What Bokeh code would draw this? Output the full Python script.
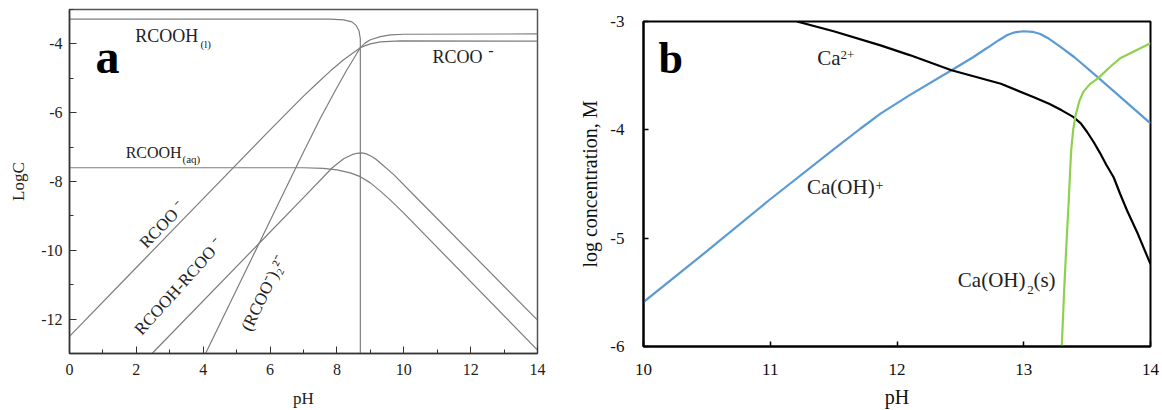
from bokeh.plotting import figure
from bokeh.layouts import row
from bokeh.models import Label, FixedTicker, Range1d
from bokeh.embed import file_html
from bokeh.resources import INLINE

# ---------------- Panel a data (pH, LogC) ----------------
ph_rcooh_l = [0, 7.8, 8.2, 8.45, 8.58, 8.66, 8.70, 8.70]
log_rcooh_l = [-3.28, -3.28, -3.30, -3.36, -3.47, -3.62, -3.85, -13.0]

ph_rcoo = [0, 2, 4, 6, 7.0, 7.4, 7.8, 8.2, 8.5, 8.7, 8.85, 9.0, 9.3, 9.9, 14]
log_rcoo = [-12.5, -10.5, -8.5, -6.5, -5.52, -5.15, -4.79, -4.46, -4.25, -4.11,
            -4.05, -4.00, -3.94, -3.91, -3.92]

ph_dimer = [4.07, 5, 6, 7, 7.5, 7.96, 8.3, 8.55, 8.7, 8.85, 9.0, 9.3, 9.6, 10, 14]
log_dimer = [-13.0, -11.14, -9.14, -7.14, -6.17, -5.34, -4.75, -4.35, -4.11,
             -3.97, -3.88, -3.79, -3.74, -3.72, -3.71]

ph_rcooh_aq = [0, 7.0, 7.6, 8.0, 8.4, 8.7, 9.0, 9.3, 9.6, 10, 14]
log_rcooh_aq = [-7.6, -7.6, -7.62, -7.66, -7.75, -7.86, -8.04, -8.28, -8.54, -8.92, -12.9]

ph_acid_soap = [2.47, 5.61, 7.0, 7.86, 8.2, 8.45, 8.6, 8.73, 8.86, 9.0, 9.15, 9.3, 9.7, 10.44, 14]
log_acid_soap = [-13.0, -9.86, -8.47, -7.6, -7.34, -7.22, -7.18, -7.17, -7.19, -7.25, -7.34,
                 -7.46, -7.8, -8.53, -12.03]

a_xticks = [0, 2, 4, 6, 8, 10, 12, 14]
a_xminor = [1, 3, 5, 7, 9, 11, 13]
a_yticks = [-12, -10, -8, -6, -4]
a_yminor = [-13, -11, -9, -7, -5, -3]

# ---------------- Panel b data (pH, log concentration) ----------------
ph_ca = [11.21, 11.5, 11.87, 12.1, 12.43, 12.82, 13.08, 13.2, 13.3, 13.39, 13.45, 13.5,
         13.55, 13.6, 13.65, 13.71, 13.76, 13.815, 13.9, 14.0]
log_ca = [-3.0, -3.09, -3.22, -3.31, -3.45, -3.575, -3.70, -3.76, -3.82, -3.88, -3.94, -4.02,
          -4.11, -4.21, -4.32, -4.44, -4.59, -4.745, -4.96, -5.24]

ph_caoh = [10, 10.5, 10.99, 11.5, 11.71, 11.87, 12.1, 12.43, 12.6, 12.71, 12.8, 12.87,
           12.93, 13.0, 13.07, 13.13, 13.2, 13.29, 13.4, 13.59, 14.0]
log_caoh = [-5.59, -5.12, -4.65, -4.18, -3.99, -3.85, -3.68, -3.45, -3.33, -3.245, -3.175,
            -3.125, -3.10, -3.09, -3.095, -3.115, -3.16, -3.235, -3.33, -3.52, -3.94]

ph_caoh2s = [13.30, 13.32, 13.34, 13.355, 13.365, 13.375, 13.39, 13.41, 13.44, 13.47,
             13.52, 13.59, 13.68, 13.76, 13.88, 14.0]
log_caoh2s = [-6.0, -5.45, -4.98, -4.65, -4.40, -4.18, -4.00, -3.86, -3.73, -3.65,
              -3.58, -3.52, -3.42, -3.34, -3.27, -3.2]

b_xticks = [10, 11, 12, 13, 14]
b_yticks = [-6, -5, -4, -3]

FONT = "Liberation Serif"
GRAY = "#7d7d7d"


def no_align(p):
    if "frame_align" in p.properties():
        p.frame_align = False


def hyphen_labels(axis, ticks):
    axis.major_label_overrides = {t: str(t) for t in ticks}


# ---------------- Panel a ----------------
p1 = figure(width=575, height=410, output_backend="svg", toolbar_location=None,
            x_range=Range1d(0, 14), y_range=Range1d(-13, -3),
            min_border_left=69, min_border_right=38, min_border_top=9, min_border_bottom=56)
no_align(p1)
p1.grid.visible = False
p1.outline_line_color = "#555555"
p1.outline_line_width = 1.5
p1.xaxis.axis_label = "pH"
p1.yaxis.axis_label = "LogC"
p1.xaxis.ticker = FixedTicker(ticks=a_xticks, minor_ticks=a_xminor)
p1.yaxis.ticker = FixedTicker(ticks=a_yticks, minor_ticks=a_yminor)
hyphen_labels(p1.yaxis[0], a_yticks)
for ax in (p1.xaxis[0], p1.yaxis[0]):
    ax.axis_line_color = "#333333"
    ax.axis_line_width = 1.5
    ax.major_tick_line_color = "#333333"
    ax.minor_tick_line_color = "#333333"
    ax.major_tick_in = 7
    ax.major_tick_out = 0
    ax.minor_tick_in = 4
    ax.minor_tick_out = 0
    ax.major_label_text_font = FONT
    ax.major_label_text_font_size = "16px"
    ax.major_label_text_color = "#222222"
    ax.axis_label_text_font = FONT
    ax.axis_label_text_font_size = "17px"
    ax.axis_label_text_font_style = "normal"
    ax.axis_label_text_color = "#222222"
p1.xaxis[0].major_label_standoff = 10
p1.xaxis[0].axis_label_standoff = 11
p1.yaxis[0].major_label_standoff = 7
p1.yaxis[0].axis_label_standoff = 10

for xs, ys in [(ph_rcooh_l, log_rcooh_l), (ph_rcoo, log_rcoo), (ph_dimer, log_dimer),
               (ph_rcooh_aq, log_rcooh_aq), (ph_acid_soap, log_acid_soap)]:
    p1.line(xs, ys, line_color=GRAY, line_width=1.2)


def lab(p, x, y, text, size, color="#222222", style="normal", angle=0, align="left"):
    p.add_layout(Label(x=x, y=y, text=text,
                       text_font=FONT, text_font_size=size, text_color=color,
                       text_font_style=style, angle=angle, angle_units="deg",
                       text_align=align, text_baseline="middle"))


lab(p1, 0.78, -4.37, "a", "48px", color="#000000", style="bold")
lab(p1, 1.97, -3.765, "RCOOH", "18px")
lab(p1, 3.92, -4.01, "(l)", "11px")
lab(p1, 1.68, -7.157, "RCOOH", "16px")
lab(p1, 3.38, -7.35, "(aq)", "11px")
lab(p1, 10.86, -4.375, "RCOO", "18px")
lab(p1, 12.53, -4.19, "-", "16px")
lab(p1, 2.78, -9.26, "RCOO \u207b", "17px", angle=46, align="center")
lab(p1, 3.27, -11.06, "RCOOH-RCOO \u207b", "17px", angle=48, align="center")
lab(p1, 5.81, -11.25, "(RCOO\u207b)\u2082\u00b2\u207b", "17px", angle=64, align="center")

# ---------------- Panel b ----------------
p2 = figure(width=587, height=410, output_backend="svg", toolbar_location=None,
            x_range=Range1d(10, 14), y_range=Range1d(-6, -3),
            min_border_left=68, min_border_right=12, min_border_top=21, min_border_bottom=64)
no_align(p2)
p2.grid.visible = False
p2.outline_line_color = "#000000"
p2.outline_line_width = 2
p2.xaxis.axis_label = "pH"
p2.yaxis.axis_label = "log concentration, M"
p2.xaxis.ticker = FixedTicker(ticks=b_xticks, minor_ticks=[])
p2.yaxis.ticker = FixedTicker(ticks=b_yticks, minor_ticks=[])
hyphen_labels(p2.yaxis[0], b_yticks)
for ax in (p2.xaxis[0], p2.yaxis[0]):
    ax.axis_line_color = "#000000"
    ax.axis_line_width = 2
    ax.major_tick_line_color = "#000000"
    ax.major_tick_line_width = 1.5
    ax.major_tick_in = 5
    ax.major_tick_out = 0
    ax.minor_tick_line_color = None
    ax.major_label_text_font = FONT
    ax.major_label_text_font_size = "17px"
    ax.major_label_text_color = "#111111"
    ax.axis_label_text_font = FONT
    ax.axis_label_text_font_size = "20px"
    ax.axis_label_text_font_style = "normal"
    ax.axis_label_text_color = "#111111"
p2.xaxis[0].major_label_standoff = 17
p2.xaxis[0].axis_label_standoff = 8
p2.yaxis[0].major_label_standoff = 19
p2.yaxis[0].axis_label_standoff = 6

p2.line(ph_caoh, log_caoh, line_color="#5B9BD5", line_width=2.2)
p2.line(ph_ca, log_ca, line_color="#000000", line_width=2.2)
p2.line(ph_caoh2s, log_caoh2s, line_color="#8FD14F", line_width=2.2)

lab(p2, 10.118, -3.342, "b", "44px", color="#000000", style="bold")
lab(p2, 11.37, -3.34, "Ca", "21px")
lab(p2, 11.554, -3.305, "2+", "13px")
lab(p2, 11.29, -4.532, "Ca(OH)", "21px")
lab(p2, 11.83, -4.505, "+", "14px")
lab(p2, 12.48, -5.39, "Ca(OH)", "21px")
lab(p2, 13.028, -5.475, "2", "13px")
lab(p2, 13.076, -5.39, "(s)", "21px")

layout = row(p1, p2)
open("out.html", "w").write(file_html(layout, INLINE))
